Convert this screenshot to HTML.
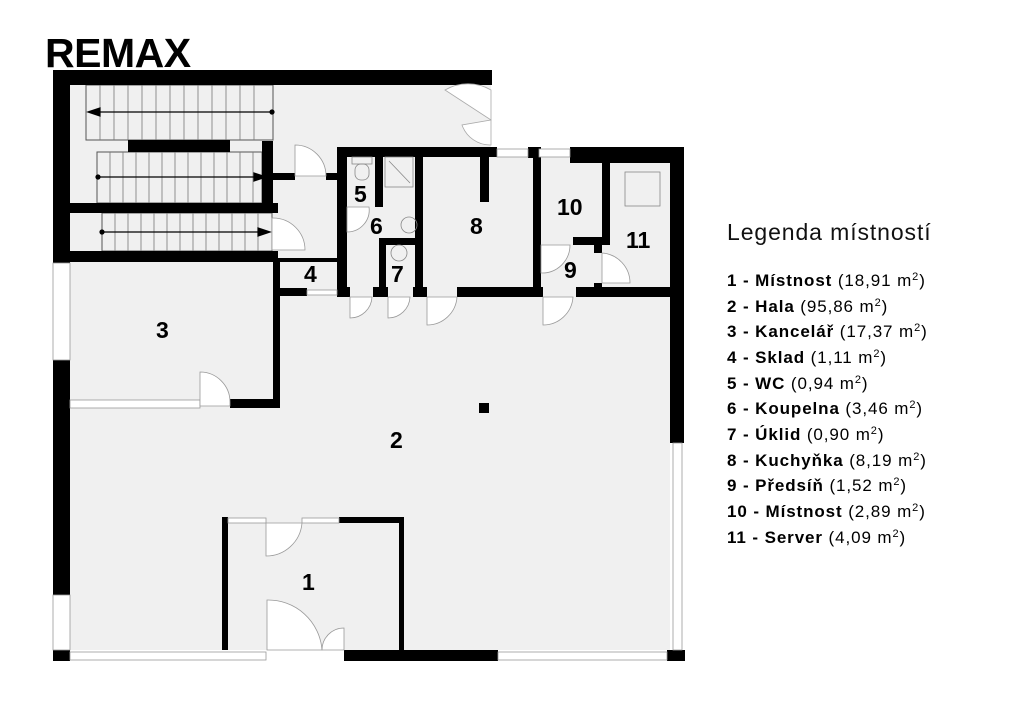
<!DOCTYPE html>
<html><head><meta charset="utf-8"><style>
html,body{margin:0;padding:0;background:#fff;width:1024px;height:723px;overflow:hidden}
svg{display:block}
.n{font-family:"Liberation Sans",sans-serif;font-weight:bold;font-size:23px;fill:#000}
.lg{font-family:"Liberation Sans",sans-serif;font-size:17px;letter-spacing:0.9px;fill:#000}
</style></head><body>
<svg width="1024" height="723" viewBox="0 0 1024 723" xmlns="http://www.w3.org/2000/svg">
<text x="45" y="67" font-family="Liberation Sans" font-weight="bold" font-size="41" letter-spacing="-0.5" fill="#000">REMAX</text>
<g fill="#f0f0f0">
<rect x="70" y="85" width="421" height="180"/>
<rect x="70" y="262" width="600" height="388"/>
<rect x="337" y="157" width="336" height="140"/>
</g>
<g fill="none" stroke="#555" stroke-width="1">
<rect x="86" y="85" width="187" height="55"/>
<rect x="97" y="152" width="165" height="51"/>
<rect x="102" y="213" width="170" height="38"/>
</g>
<g stroke="#777" stroke-width="0.8">
<path d="M100 85V140M114 85V140M128 85V140M142 85V140M156 85V140M170 85V140M184 85V140M198 85V140M212 85V140M226 85V140M240 85V140M254 85V140"/>
<path d="M110 152V203M123 152V203M136 152V203M149 152V203M162 152V203M175 152V203M188 152V203M201 152V203M214 152V203M227 152V203M240 152V203M253 152V203"/>
<path d="M115 213V251M128 213V251M141 213V251M154 213V251M167 213V251M180 213V251M193 213V251M206 213V251M219 213V251M232 213V251M245 213V251M258 213V251"/>
</g>
<g stroke="#000" stroke-width="1.2" fill="#000">
<line x1="97" y1="112" x2="272" y2="112"/><circle cx="272" cy="112" r="2"/><polygon points="88,112 100,108 100,116"/>
<line x1="98" y1="177" x2="255" y2="177"/><circle cx="98" cy="177" r="2"/><polygon points="266,177 254,173 254,181"/>
<line x1="102" y1="232" x2="260" y2="232"/><circle cx="102" cy="232" r="2"/><polygon points="270,232 258,228 258,236"/>
</g>
<g fill="#000">
<rect x="53" y="70" width="439" height="15"/>
<rect x="53" y="70" width="17" height="193"/>
<rect x="128" y="140" width="102" height="12"/>
<rect x="262" y="141" width="11" height="72"/>
<rect x="70" y="203" width="208" height="10"/>
<rect x="70" y="251" width="208" height="11"/>
<rect x="278" y="258" width="62" height="4"/>
<rect x="273" y="262" width="7" height="146"/>
<rect x="230" y="399" width="50" height="9"/>
<rect x="273" y="173" width="22" height="7"/>
<rect x="326" y="173" width="14" height="7"/>
<rect x="279" y="288" width="28" height="8"/>
<rect x="337" y="147" width="160" height="10"/>
<rect x="337" y="147" width="10" height="150"/>
<rect x="375" y="157" width="8" height="50"/>
<rect x="415" y="147" width="8" height="150"/>
<rect x="379" y="238" width="36" height="7"/>
<rect x="379" y="238" width="7" height="59"/>
<rect x="480" y="147" width="9" height="55"/>
<rect x="528" y="147" width="11" height="11"/>
<rect x="570" y="147" width="114" height="16"/>
<rect x="533" y="147" width="8" height="150"/>
<rect x="602" y="163" width="8" height="82"/>
<rect x="573" y="237" width="37" height="8"/>
<rect x="594" y="245" width="8" height="8"/>
<rect x="594" y="283" width="8" height="8"/>
<rect x="337" y="287" width="13" height="10"/>
<rect x="373" y="287" width="15" height="10"/>
<rect x="413" y="287" width="14" height="10"/>
<rect x="457" y="287" width="86" height="10"/>
<rect x="576" y="287" width="108" height="10"/>
<rect x="670" y="147" width="14" height="296"/>
<rect x="53" y="360" width="17" height="235"/>
<rect x="53" y="650" width="17" height="11"/>
<rect x="222" y="517" width="6" height="133"/>
<rect x="339" y="517" width="65" height="6"/>
<rect x="399" y="517" width="5" height="133"/>
<rect x="344" y="650" width="154" height="11"/>
<rect x="667" y="650" width="18" height="11"/>
<rect x="479" y="403" width="10" height="10"/>
</g>
<g fill="#fff" stroke="#999" stroke-width="0.8">
<rect x="53" y="263" width="17" height="97"/>
<rect x="53" y="595" width="17" height="55"/>
<rect x="70" y="652" width="196" height="8"/>
<rect x="498" y="652" width="169" height="8"/>
<rect x="673" y="443" width="9" height="207"/>
<rect x="70" y="400" width="130" height="8"/>
<rect x="228" y="518" width="38" height="5"/>
<rect x="302" y="518" width="37" height="5"/>
<rect x="497" y="149" width="31" height="8"/>
<rect x="539" y="149" width="31" height="8"/>
<rect x="307" y="290" width="30" height="5"/>
</g>
<g fill="#fff" stroke="#999" stroke-width="0.8">
<path d="M295 176V145A31 31 0 0 1 326 176Z"/>
<path d="M273 218H272V250H305A32 32 0 0 0 273 218Z"/>
<path d="M200 406V372A30 30 0 0 1 230 402V406Z"/>
<path d="M350 297V318A22 22 0 0 0 372 297Z"/>
<path d="M388 297V318A22 22 0 0 0 410 297Z"/>
<path d="M427 297V325A30 30 0 0 0 457 297Z"/>
<path d="M543 297V325A30 30 0 0 0 573 297Z"/>
<path d="M347 207V232A22 22 0 0 0 369 207Z"/>
<path d="M541 245V273A28 28 0 0 0 570 245Z"/>
<path d="M602 253V283H630A30 30 0 0 0 602 253Z"/>
<path d="M266 523V556A36 36 0 0 0 302 523Z"/>
<path d="M267 650V600A54 54 0 0 1 322 650Z"/>
<path d="M344 650V628A22 22 0 0 0 322 650Z"/>
<path d="M491 90A46 46 0 0 0 445 90L491 120Z" stroke="#aaa"/>
<path d="M491 145A30 30 0 0 1 462 125L491 120Z" stroke="#aaa"/>
</g>
<g fill="none" stroke="#888" stroke-width="0.8">
<rect x="352" y="157" width="20" height="7"/>
<rect x="355" y="164" width="14" height="16" rx="6"/>
<rect x="385" y="157" width="28" height="30"/>
<line x1="389" y1="161" x2="410" y2="183"/>
<circle cx="409" cy="225" r="8"/>
<circle cx="399" cy="253" r="8"/>
<rect x="625" y="172" width="35" height="34"/>
</g>
<text class="n" x="156" y="338">3</text>
<text class="n" x="390" y="448">2</text>
<text class="n" x="302" y="590">1</text>
<text class="n" x="304" y="282">4</text>
<text class="n" x="354" y="202">5</text>
<text class="n" x="370" y="234">6</text>
<text class="n" x="391" y="282">7</text>
<text class="n" x="470" y="234">8</text>
<text class="n" x="557" y="215">10</text>
<text class="n" x="626" y="248">11</text>
<text class="n" x="564" y="278">9</text>
<text x="727" y="240" font-family="Liberation Sans" font-size="23" letter-spacing="0.9" fill="#111">Legenda místností</text>
<g class="lg">
<text x="727" y="286"><tspan font-weight="bold">1 - Místnost</tspan> (18,91 m<tspan dy="-6" font-size="11">2</tspan><tspan dy="6">)</tspan></text>
<text x="727" y="312"><tspan font-weight="bold">2 - Hala</tspan> (95,86 m<tspan dy="-6" font-size="11">2</tspan><tspan dy="6">)</tspan></text>
<text x="727" y="337"><tspan font-weight="bold">3 - Kancelář</tspan> (17,37 m<tspan dy="-6" font-size="11">2</tspan><tspan dy="6">)</tspan></text>
<text x="727" y="363"><tspan font-weight="bold">4 - Sklad</tspan> (1,11 m<tspan dy="-6" font-size="11">2</tspan><tspan dy="6">)</tspan></text>
<text x="727" y="389"><tspan font-weight="bold">5 - WC</tspan> (0,94 m<tspan dy="-6" font-size="11">2</tspan><tspan dy="6">)</tspan></text>
<text x="727" y="414"><tspan font-weight="bold">6 - Koupelna</tspan> (3,46 m<tspan dy="-6" font-size="11">2</tspan><tspan dy="6">)</tspan></text>
<text x="727" y="440"><tspan font-weight="bold">7 - Úklid</tspan> (0,90 m<tspan dy="-6" font-size="11">2</tspan><tspan dy="6">)</tspan></text>
<text x="727" y="466"><tspan font-weight="bold">8 - Kuchyňka</tspan> (8,19 m<tspan dy="-6" font-size="11">2</tspan><tspan dy="6">)</tspan></text>
<text x="727" y="491"><tspan font-weight="bold">9 - Předsíň</tspan> (1,52 m<tspan dy="-6" font-size="11">2</tspan><tspan dy="6">)</tspan></text>
<text x="727" y="517"><tspan font-weight="bold">10 - Místnost</tspan> (2,89 m<tspan dy="-6" font-size="11">2</tspan><tspan dy="6">)</tspan></text>
<text x="727" y="543"><tspan font-weight="bold">11 - Server</tspan> (4,09 m<tspan dy="-6" font-size="11">2</tspan><tspan dy="6">)</tspan></text>
</g>
</svg>
</body></html>
